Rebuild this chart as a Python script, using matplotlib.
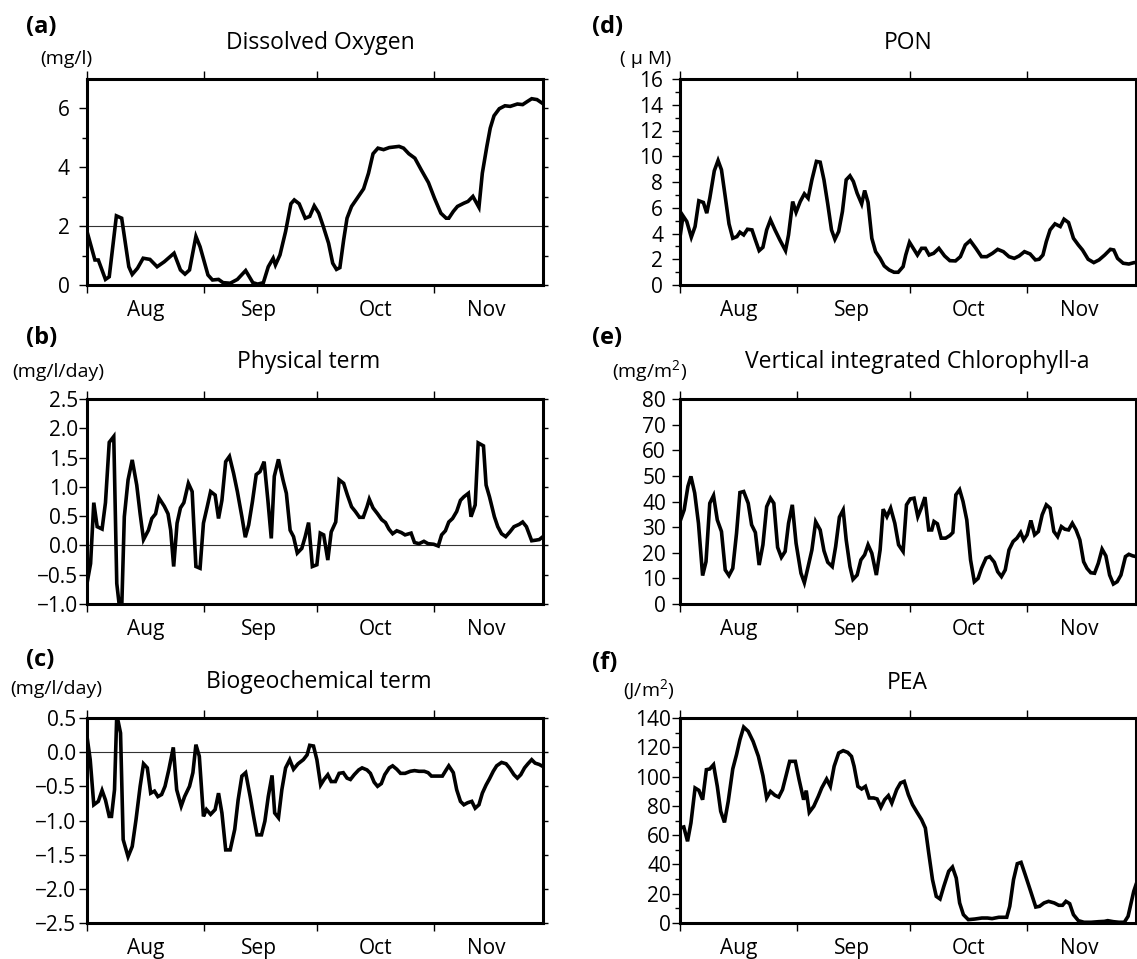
import matplotlib
matplotlib.use('Agg')
import matplotlib.pyplot as plt
from matplotlib.ticker import FixedLocator, FuncFormatter, NullFormatter

plt.rcParams['font.family'] = ['Open Sans', 'DejaVu Sans']
plt.rcParams['mathtext.fontset'] = 'custom'
plt.rcParams['mathtext.rm'] = 'Open Sans'
plt.rcParams['mathtext.it'] = 'Open Sans:italic'
plt.rcParams['axes.unicode_minus'] = True

# ---------------- data (day 0 = Aug 1, day 121 = Nov 30) ----------------
month_starts = [0, 31, 61, 92]
month_mids = [15.5, 45.5, 76.5, 106]
month_labels = ['Aug', 'Sep', 'Oct', 'Nov']

do_day = [0, 2.1, 3.0, 4.9, 5.9, 7.8, 9.2, 11.1, 12, 13.4, 14.9, 16.7, 18.6, 20.5, 23.1, 24.8, 26.0, 27.2,
          28.9, 30.0, 32.1, 33.3, 34.9, 36.1, 38.0, 39.9, 42.1, 44.0, 45.3, 46.8, 48.1, 49.4, 50.0, 51.2,
          52.7, 54.1, 55.0, 56.3, 57.9, 59.1, 60.3, 61.5, 62.7, 64.1, 65.2, 66.2, 67.1, 68.1, 69.0, 70.2,
          71.7, 73.4, 74.7, 75.9, 77.2, 78.7, 80.2, 82.8, 84.0, 85.4, 87.0, 88.7, 90.6, 92.2, 93.9, 95.3,
          96.0, 97.2, 98.3, 100.0, 101.1, 102.4, 104.0, 104.9, 106.1, 107.0, 108.0, 109.4, 110.9, 112.3,
          114.2, 115.6, 116.9, 118.0, 119.4, 121]
do_val = [1.82, 0.85, 0.85, 0.19, 0.28, 2.35, 2.27, 0.62, 0.36, 0.57, 0.91, 0.87, 0.62, 0.79, 1.08, 0.51,
          0.37, 0.51, 1.65, 1.30, 0.34, 0.17, 0.19, 0.08, 0.06, 0.19, 0.49, 0.08, 0.03, 0.08, 0.62, 0.91,
          0.68, 1.02, 1.82, 2.76, 2.89, 2.76, 2.27, 2.33, 2.69, 2.44, 1.99, 1.42, 0.74, 0.53, 0.59, 1.53,
          2.27, 2.67, 2.95, 3.27, 3.80, 4.46, 4.65, 4.60, 4.67, 4.71, 4.65, 4.46, 4.31, 3.91, 3.48, 2.95,
          2.44, 2.27, 2.27, 2.50, 2.67, 2.78, 2.84, 3.01, 2.64, 3.80, 4.71, 5.33, 5.75, 5.99, 6.09, 6.07,
          6.15, 6.13, 6.24, 6.33, 6.30, 6.16]

phy_day = [0, 0.95, 1.8, 2.7, 4.0, 4.9, 5.9, 7.1, 7.9, 8.7, 9.2, 9.9, 10.9, 12.0, 13.2, 14.1, 15.0, 16.3,
           17.2, 18.2, 19.1, 20.5, 21.5, 22.2, 23.0, 23.9, 24.8, 25.7, 26.9, 27.9, 28.9, 30.0, 30.9, 31.9,
           32.8, 34.0, 34.9, 35.8, 36.8, 37.8, 38.9, 39.9, 41.1, 42.0, 42.9, 43.9, 44.9, 45.9, 47.0, 48.0,
           48.9, 49.7, 50.8, 52.0, 52.9, 53.9, 54.8, 55.8, 57.0, 57.9, 58.8, 59.8, 61.0, 61.9, 62.8, 63.9,
           64.8, 66.0, 66.9, 68.1, 69.1, 70.2, 71.2, 72.3, 73.3, 74.3, 74.9, 75.9, 77.1, 78.2, 79.2, 80.1,
           81.1, 82.2, 83.4, 84.4, 86.0, 86.9, 88.1, 89.4, 90.5, 92.0, 93.2, 94.1, 95.1, 96.0, 97.0, 98.1,
           99.1, 100.0, 101.2, 101.9, 103.0, 103.8, 105.2, 105.9, 106.8, 108.1, 109.0, 110.0, 111.1, 112.2,
           113.3, 114.7, 115.6, 116.6, 118.0, 119.1, 120.0, 121]
phy_val = [-0.65, -0.31, 0.73, 0.32, 0.28, 0.73, 1.76, 1.86, -0.65, -1.1, -1.1, 0.49, 1.12, 1.46, 1.03,
           0.54, 0.10, 0.26, 0.46, 0.54, 0.81, 0.67, 0.54, 0.26, -0.36, 0.38, 0.64, 0.73, 1.06, 0.92,
           -0.36, -0.39, 0.38, 0.66, 0.92, 0.86, 0.46, 0.77, 1.43, 1.52, 1.23, 0.92, 0.49, 0.14, 0.35,
           0.75, 1.21, 1.26, 1.43, 0.77, 0.12, 1.18, 1.47, 1.12, 0.89, 0.26, 0.15, -0.13, -0.05, 0.15,
           0.39, -0.36, -0.33, 0.21, 0.18, -0.25, 0.23, 0.40, 1.12, 1.06, 0.86, 0.66, 0.58, 0.48, 0.48,
           0.66, 0.79, 0.64, 0.54, 0.44, 0.39, 0.28, 0.20, 0.25, 0.22, 0.18, 0.21, 0.05, 0.03, 0.07, 0.03,
           0.02, -0.01, 0.18, 0.25, 0.40, 0.46, 0.58, 0.77, 0.83, 0.89, 0.49, 0.69, 1.75, 1.70, 1.03, 0.83,
           0.49, 0.32, 0.20, 0.15, 0.23, 0.32, 0.36, 0.40, 0.32, 0.08, 0.09, 0.10, 0.15]

bio_day = [0, 0.85, 1.8, 3.0, 4.0, 4.9, 5.9, 6.5, 7.3, 7.9, 8.9, 9.6, 10.9, 12.0, 13.0, 14.1, 15.0, 16.0,
           16.9, 17.9, 18.8, 19.8, 20.7, 21.7, 22.9, 23.8, 25.0, 25.9, 27.2, 28.1, 28.9, 29.8, 30.9, 31.7,
           32.8, 34.0, 34.9, 35.8, 36.8, 38.0, 39.2, 40.1, 41.1, 42.1, 43.3, 44.2, 45.1, 46.3, 47.2, 48.1,
           49.1, 49.8, 50.8, 51.7, 52.7, 53.8, 54.8, 56.0, 57.4, 58.4, 59.1, 60.1, 61.0, 62.0, 62.9, 63.9,
           64.8, 65.9, 66.9, 68.0, 69.0, 69.9, 70.9, 72.1, 73.0, 74.3, 75.2, 76.2, 77.1, 78.1, 79.0, 80.2,
           81.1, 82.2, 83.2, 84.4, 85.8, 86.9, 88.1, 89.5, 90.5, 91.4, 92.9, 94.3, 95.3, 96.0, 97.2, 98.1,
           99.1, 100.0, 101.0, 102.1, 103.0, 104.0, 104.9, 105.9, 106.8, 107.8, 108.7, 110.0, 111.2, 112.1,
           113.3, 114.2, 115.1, 116.1, 117.0, 118.0, 118.9, 120.0, 121]
bio_val = [0.23, -0.11, -0.77, -0.72, -0.56, -0.70, -0.94, -0.94, -0.55, 0.55, 0.28, -1.28, -1.53, -1.38,
           -0.99, -0.50, -0.17, -0.23, -0.60, -0.57, -0.65, -0.62, -0.50, -0.26, 0.07, -0.55, -0.79, -0.65,
           -0.50, -0.30, 0.11, -0.06, -0.94, -0.84, -0.91, -0.84, -0.60, -0.89, -1.43, -1.43, -1.13, -0.70,
           -0.35, -0.30, -0.65, -0.94, -1.21, -1.21, -1.01, -0.65, -0.34, -0.89, -0.96, -0.55, -0.23, -0.11,
           -0.25, -0.17, -0.11, -0.04, 0.10, 0.09, -0.11, -0.48, -0.40, -0.33, -0.43, -0.43, -0.31, -0.30,
           -0.38, -0.40, -0.33, -0.26, -0.23, -0.26, -0.31, -0.44, -0.50, -0.46, -0.33, -0.23, -0.20, -0.25,
           -0.31, -0.31, -0.28, -0.27, -0.28, -0.28, -0.30, -0.35, -0.35, -0.35, -0.26, -0.20, -0.30, -0.55,
           -0.72, -0.77, -0.74, -0.72, -0.82, -0.77, -0.60, -0.48, -0.39, -0.28, -0.20, -0.15, -0.17, -0.23,
           -0.33, -0.38, -0.33, -0.23, -0.17, -0.11, -0.16, -0.18, -0.21]

pon_day = [0, 0.8, 1.8, 3.0, 4.0, 5.0, 6.2, 7.1, 7.9, 9.1, 10.1, 11.0, 12.0, 13.0, 14.0, 15.1, 15.9, 16.9,
           17.9, 19.1, 20.0, 21.0, 22.0, 23.0, 24.0, 25.2, 26.5, 28.0, 28.8, 29.9, 30.8, 31.9, 33.0, 34.0,
           35.0, 36.2, 37.2, 38.2, 39.2, 40.2, 41.1, 42.1, 43.1, 44.1, 45.1, 46.0, 47.0, 48.2, 49.0, 49.9,
           50.9, 51.9, 53.1, 54.2, 55.5, 56.8, 57.9, 59.2, 59.9, 60.9, 61.9, 63.0, 64.1, 65.1, 66.1, 67.3,
           68.7, 70.2, 71.6, 73.1, 74.4, 75.7, 77.0, 78.5, 80.0, 81.4, 82.9, 84.3, 85.8, 87.3, 88.7, 90.0,
           91.4, 92.9, 94.3, 95.3, 96.3, 97.2, 98.2, 99.5, 100.9, 101.9, 103.1, 104.4, 105.7, 106.8, 108.3,
           109.8, 111.2, 112.7, 114.2, 115.1, 116.1, 117.6, 119.1, 120.5, 121]
pon_val = [3.71, 5.37, 4.93, 3.71, 4.54, 6.54, 6.41, 5.58, 6.74, 8.87, 9.67, 8.95, 6.87, 4.75, 3.63, 3.76,
           4.10, 3.89, 4.33, 4.28, 3.50, 2.67, 2.93, 4.28, 5.06, 4.28, 3.50, 2.67, 3.89, 6.48, 5.65, 6.48,
           7.08, 6.74, 8.17, 9.60, 9.54, 8.17, 6.30, 4.28, 3.55, 4.15, 5.71, 8.17, 8.48, 8.04, 7.13, 6.30,
           7.34, 6.41, 3.63, 2.59, 2.07, 1.48, 1.17, 0.99, 0.99, 1.43, 2.33, 3.32, 2.85, 2.33, 2.85, 2.85,
           2.33, 2.46, 2.85, 2.26, 1.89, 1.87, 2.20, 3.11, 3.45, 2.85, 2.20, 2.20, 2.46, 2.77, 2.59, 2.20,
           2.07, 2.26, 2.59, 2.41, 1.95, 2.00, 2.33, 3.37, 4.28, 4.75, 4.54, 5.11, 4.85, 3.63, 3.11, 2.72,
           2.00, 1.74, 1.95, 2.33, 2.77, 2.72, 2.07, 1.69, 1.63, 1.74, 1.74]

chl_day = [0, 1.1, 2.1, 2.9, 3.9, 4.9, 6.0, 6.9, 7.9, 8.9, 9.9, 11.0, 12.0, 13.0, 14.0, 15.0, 15.9, 16.9,
           18.1, 19.0, 20.0, 21.0, 22.0, 23.0, 24.0, 24.9, 25.9, 26.9, 27.9, 28.8, 29.8, 30.8, 32.1, 33.0,
           34.0, 35.0, 36.0, 37.2, 38.2, 39.2, 40.4, 41.3, 42.3, 43.3, 44.1, 45.1, 45.9, 47.0, 48.0, 49.0,
           49.9, 50.9, 52.1, 53.1, 53.9, 54.9, 55.9, 57.0, 58.0, 59.2, 60.1, 61.1, 62.1, 63.1, 64.0, 65.0,
           66.0, 66.8, 67.4, 68.3, 69.3, 70.5, 71.6, 72.4, 73.2, 74.2, 75.1, 76.1, 77.1, 78.1, 79.1, 80.0,
           81.2, 82.2, 83.4, 84.3, 85.3, 86.3, 87.3, 88.4, 89.4, 90.4, 91.2, 92.1, 93.1, 94.1, 95.1, 96.1,
           97.2, 98.2, 99.2, 100.2, 101.2, 102.1, 103.1, 104.1, 105.1, 106.1, 107.1, 108.0, 109.0, 110.0,
           111.0, 112.0, 113.0, 114.0, 115.0, 116.0, 117.0, 118.2, 119.1, 120.1, 121]
chl_val = [32.2, 36.7, 45.9, 49.8, 43.3, 31.5, 11.1, 16.5, 39.3, 42.3, 32.8, 28.3, 13.3, 11.1, 13.9, 27.6,
           43.5, 43.9, 39.3, 30.9, 27.9, 15.2, 23.1, 38.0, 41.3, 39.3, 22.1, 18.2, 20.5, 31.5, 38.7, 23.7,
           12.0, 8.3, 14.6, 21.1, 32.1, 28.9, 20.8, 16.3, 14.6, 22.4, 33.9, 36.7, 25.0, 14.6, 9.6, 11.3,
           17.2, 19.2, 23.1, 19.8, 11.3, 21.1, 37.0, 34.1, 37.4, 31.5, 23.1, 20.5, 38.7, 41.0, 41.3, 34.1,
           37.4, 41.7, 28.9, 28.9, 32.2, 31.3, 25.7, 25.7, 26.7, 27.9, 42.6, 44.6, 40.0, 32.8, 17.2, 8.7,
           10.0, 13.9, 17.9, 18.5, 16.3, 12.6, 10.7, 13.3, 21.1, 24.4, 25.7, 27.9, 25.0, 27.0, 32.6, 27.0,
           28.3, 34.8, 38.7, 37.4, 28.3, 26.3, 30.2, 29.2, 28.9, 31.5, 28.9, 25.0, 16.5, 13.9, 12.2, 12.0,
           15.9, 21.4, 18.8, 11.3, 7.8, 8.7, 11.3, 18.5, 19.4, 18.8, 18.5]

pea_day = [0, 1.0, 2.0, 2.9, 4.0, 5.0, 6.0, 7.0, 7.9, 8.9, 9.9, 10.8, 11.8, 12.8, 14.0, 15.0, 15.9, 16.9,
           18.1, 19.4, 20.8, 22.0, 23.0, 24.0, 25.2, 26.2, 27.2, 28.1, 29.1, 30.6, 31.6, 32.8, 33.5, 34.3,
           35.5, 36.7, 37.6, 38.9, 39.9, 40.9, 42.1, 43.3, 44.5, 45.5, 46.2, 47.2, 48.2, 49.2, 50.2, 51.4,
           52.3, 53.3, 54.3, 55.3, 56.2, 57.5, 58.5, 59.5, 60.6, 61.7, 62.9, 64.1, 65.1, 66.0, 67.0, 68.0,
           69.0, 70.0, 71.3, 72.3, 73.3, 74.2, 75.2, 76.5, 78.2, 80.1, 81.6, 82.8, 84.6, 86.0, 86.7, 87.5,
           88.5, 89.5, 90.5, 91.6, 92.9, 94.4, 95.4, 96.6, 97.8, 99.3, 100.5, 101.5, 102.4, 103.4, 104.4,
           105.7, 107.2, 109.1, 111.1, 112.6, 113.5, 115.0, 116.5, 117.9, 118.9, 120.4, 121]
pea_val = [64.9, 65.6, 55.8, 68.3, 92.2, 90.6, 84.2, 104.7, 105.2, 108.1, 93.3, 76.3, 68.7, 83.1, 105.2,
           115.0, 125.2, 133.8, 130.9, 124.0, 113.8, 100.6, 85.4, 89.9, 87.2, 86.0, 91.1, 100.2, 110.4,
           110.4, 97.9, 84.2, 90.4, 75.6, 79.7, 86.5, 92.2, 98.3, 93.3, 107.0, 116.1, 117.7, 116.5, 113.8,
           107.0, 93.3, 91.5, 93.3, 85.4, 85.4, 84.7, 79.0, 84.2, 87.0, 81.9, 91.1, 95.6, 96.7, 87.6, 80.8,
           75.6, 70.6, 64.9, 47.8, 29.6, 18.2, 16.4, 25.0, 35.3, 38.2, 30.7, 13.7, 5.7, 2.3, 2.7, 3.4, 3.4,
           3.0, 3.9, 3.9, 3.9, 11.4, 29.6, 40.5, 41.4, 33.0, 22.8, 10.9, 11.4, 13.7, 14.8, 13.7, 12.1, 12.1,
           14.8, 13.2, 5.7, 1.6, 0.5, 0.5, 0.9, 1.1, 1.6, 0.9, 0.5, 0.5, 4.6, 21.6, 26.2]

# ---------------- layout ----------------
W, H = 1137, 959
DPI = 100
PX = 72.0 / DPI  # points per pixel
fig = plt.figure(figsize=(W / DPI, H / DPI), dpi=DPI)

LINE = 'black'


def fx(x):
    return x / W


def fy(y):
    return 1 - y / H


panels = [
    dict(box=(87, 79, 543, 285), x=do_day, y=do_val, ylim=(0, 7), major=[0, 2, 4, 6], minor=[1, 3, 5],
         right=[0, 1, 2, 3, 4, 5, 6, 7], fmt='{:.0f}', ref=2, gap=17,
         letter='(a)', lpos=(41, 27), title='Dissolved Oxygen', tpos=(320, 43),
         unit='(mg/l)', upos=(66, 59)),
    dict(box=(87, 399, 543, 604), x=phy_day, y=phy_val, ylim=(-1.0, 2.5),
         major=[-1.0, -0.5, 0, 0.5, 1.0, 1.5, 2.0, 2.5], minor=[],
         right=[-1.0, -0.5, 0, 0.5, 1.0, 1.5, 2.0, 2.5], fmt='{:.1f}', ref=0, gap=8,
         letter='(b)', lpos=(42, 338), title='Physical term', tpos=(309, 362),
         unit='(mg/l/day)', upos=(58, 372)),
    dict(box=(87, 718, 543, 923), x=bio_day, y=bio_val, ylim=(-2.5, 0.5),
         major=[-2.5, -2.0, -1.5, -1.0, -0.5, 0, 0.5], minor=[],
         right=[-2.5, -2.0, -1.5, -1.0, -0.5, 0, 0.5], fmt='{:.1f}', ref=0, gap=11,
         letter='(c)', lpos=(40, 660), title='Biogeochemical term', tpos=(319, 682),
         unit='(mg/l/day)', upos=(56, 689)),
    dict(box=(680, 79, 1136, 285), x=pon_day, y=pon_val, ylim=(0, 16), major=list(range(0, 17, 2)),
         minor=list(range(1, 16, 2)), right=list(range(0, 17)), fmt='{:.0f}', ref=None, gap=17,
         letter='(d)', lpos=(608, 27), title='PON', tpos=(908, 43),
         unit='( μ M)', upos=(646, 59)),
    dict(box=(680, 399, 1136, 604), x=chl_day, y=chl_val, ylim=(0, 80), major=list(range(0, 81, 10)),
         minor=[], right=list(range(0, 81, 10)), fmt='{:.0f}', ref=None, gap=14,
         letter='(e)', lpos=(607, 338), title='Vertical integrated Chlorophyll-a', tpos=(917, 362),
         unit='(mg/m$^2$)', upos=(650, 371)),
    dict(box=(680, 718, 1136, 923), x=pea_day, y=pea_val, ylim=(0, 140), major=list(range(0, 141, 20)),
         minor=list(range(10, 140, 20)), right=list(range(0, 141, 10)), fmt='{:.0f}', ref=None, gap=8,
         letter='(f)', lpos=(605, 663), title='PEA', tpos=(907, 683),
         unit='(J/m$^2$)', upos=(649, 690)),
]

TICK_FS = 15
TITLE_FS = 16.5
UNIT_FS = 14
LETTER_FS = 17
MAJ_LEN = 8 * PX
MIN_LEN = 5 * PX

for p in panels:
    l, t, r, b = p['box']
    ax = fig.add_axes([fx(l), fy(b), (r - l) / W, (b - t) / H])
    ax.plot(p['x'], p['y'], color=LINE, lw=2.6, solid_joinstyle='miter', clip_on=True)
    if p['ref'] is not None:
        ax.axhline(p['ref'], color='#333333', lw=0.8, zorder=1)
    ax.set_xlim(0, 121)
    ax.set_ylim(*p['ylim'])
    for s in ax.spines.values():
        s.set_linewidth(2.2)
        s.set_color('black')

    # x ticks: month boundaries (marks) and mid-month labels
    ax.xaxis.set_major_locator(FixedLocator(month_starts))
    ax.xaxis.set_major_formatter(NullFormatter())
    ax.xaxis.set_minor_locator(FixedLocator(month_mids))
    ax.xaxis.set_minor_formatter(FuncFormatter(lambda v, pos: month_labels[pos] if pos is not None and pos < 4 else ''))
    ax.tick_params(axis='x', which='major', direction='out', length=MAJ_LEN, width=1.0, bottom=True, top=False)
    ax.tick_params(axis='x', which='minor', length=0, pad=15 * PX, labelsize=TICK_FS)

    # y ticks
    fmt = p['fmt']
    ax.yaxis.set_major_locator(FixedLocator(p['major']))
    ax.yaxis.set_major_formatter(FuncFormatter(lambda v, pos, f=fmt: f.format(v).replace('-', '\u2212')))
    ax.yaxis.set_minor_locator(FixedLocator(p['minor']))
    pad = max(p['gap'] - 8, 1) * PX
    ax.tick_params(axis='y', which='major', direction='out', length=MAJ_LEN, width=1.0,
                   labelsize=TICK_FS, pad=pad, left=True, right=False)
    ax.tick_params(axis='y', which='minor', direction='out', length=MIN_LEN, width=1.0, left=True, right=False)

    # top month marks
    secx = ax.secondary_xaxis('top')
    secx.xaxis.set_major_locator(FixedLocator(month_starts))
    secx.xaxis.set_major_formatter(NullFormatter())
    secx.tick_params(direction='out', length=MAJ_LEN, width=1.0)
    for s in secx.spines.values():
        s.set_visible(False)

    # right side marks
    secy = ax.secondary_yaxis('right')
    secy.yaxis.set_major_locator(FixedLocator(p['right']))
    secy.yaxis.set_major_formatter(NullFormatter())
    secy.tick_params(direction='out', length=MIN_LEN, width=1.0)
    for s in secy.spines.values():
        s.set_visible(False)

    fig.text(fx(p['lpos'][0]), fy(p['lpos'][1]), p['letter'], fontsize=LETTER_FS, fontweight='bold',
             ha='center', va='center')
    fig.text(fx(p['tpos'][0]), fy(p['tpos'][1]), p['title'], fontsize=TITLE_FS, ha='center', va='center')
    fig.text(fx(p['upos'][0]), fy(p['upos'][1]), p['unit'], fontsize=UNIT_FS, ha='center', va='center')

fig.savefig('out.png', dpi=DPI)
